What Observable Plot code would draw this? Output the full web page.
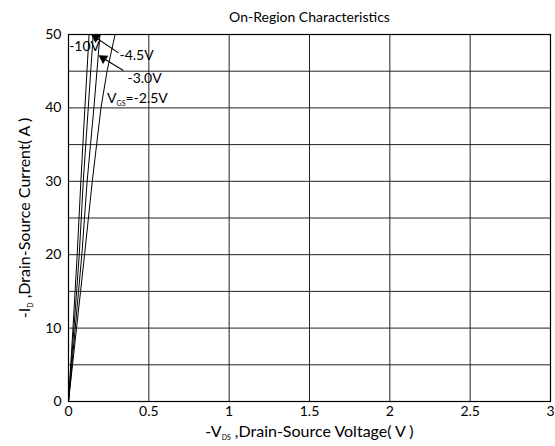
<!DOCTYPE html>
<html><head><meta charset="utf-8">
<script src="https://cdn.jsdelivr.net/npm/d3@7"></script>
<script src="https://cdn.jsdelivr.net/npm/@observablehq/plot@0.6"></script>
<style>body{margin:0;background:#fff} svg{display:block}</style>
</head><body><div id="chart"></div>
<script>
// -I_D (A) sample points shared by all curves
const currents = [0, 10, 20, 30, 40, 45, 50];
// -V_DS (V) for each gate voltage
const vdsVgs10  = [0, 0.028, 0.054, 0.077, 0.102, 0.115, 0.128];
const vdsVgs45  = [0, 0.034, 0.067, 0.092, 0.123, 0.138, 0.154];
const vdsVgs30  = [0, 0.042, 0.083, 0.116, 0.158, 0.177, 0.196];
const vdsVgs25  = [0, 0.050, 0.100, 0.148, 0.202, 0.240, 0.290];
const seriesNames = ["-10V", "-4.5V", "-3.0V", "-2.5V"];
const xTicks = [0, 0.5, 1, 1.5, 2, 2.5, 3];
const xTickLabels = ["0", "0.5", "1", "1.5", "2", "2.5", "3"];
const yTicks = [0, 10, 20, 30, 40, 50];
const yGrid = [0, 5, 10, 15, 20, 25, 30, 35, 40, 45, 50];
// annotations (data coordinates)
const labelTexts = ["-10V", "-4.5V", "-3.0V", "V_GS=-2.5V"];
const labelX = [0.004, 0.317, 0.367, 0.240];
const labelY = [48.4, 47.1, 44.0, 41.3];
const arrowTail = [[0.311, 47.5], [0.342, 45.1]];
const arrowTip  = [[0.149, 49.9], [0.198, 47.0]];

const series = [vdsVgs10, vdsVgs45, vdsVgs30, vdsVgs25];
const rows = series.flatMap((vals, i) => vals.map((v, j) => ({vgs: seriesNames[i], x: v, y: currents[j]})));
const labels = labelTexts.map((t, i) => ({t, x: labelX[i], y: labelY[i]}));
const arrows = arrowTail.map((a, i) => ({x1: a[0], y1: a[1], x2: arrowTip[i][0], y2: arrowTip[i][1]}));
const heads = arrows.map(a => ({x: a.x2 + 0.13 * (a.x1 - a.x2), y: a.y2 + 0.13 * (a.y1 - a.y2)}));

const font = "Lato, 'Open Sans', sans-serif";
const plot = Plot.plot({
  width: 555, height: 446,
  marginLeft: 68, marginRight: 5, marginTop: 34, marginBottom: 45,
  style: {fontFamily: font, fontSize: "14px", color: "#000", background: "#fff"},
  x: {domain: [0, 3], ticks: xTicks, tickFormat: (d) => xTickLabels[xTicks.indexOf(d)], tickSize: 0, tickPadding: 5,
      label: "-V_DS ,Drain-Source Voltage( V )", labelAnchor: "center", labelOffset: 35, labelArrow: "none"},
  y: {domain: [0, 50], ticks: yTicks, tickSize: 0, tickPadding: 7,
      label: "-I_D ,Drain-Source Current( A )", labelAnchor: "center", labelOffset: 50, labelArrow: "none"},
  marks: [
    Plot.gridX(xTicks, {stroke: "#222", strokeOpacity: 1, strokeWidth: 1}),
    Plot.gridY(yGrid, {stroke: "#222", strokeOpacity: 1, strokeWidth: 1}),
    Plot.frame({stroke: "#000", strokeWidth: 1.2}),
    Plot.line(rows, {x: "x", y: "y", z: "vgs", stroke: "#000", strokeWidth: 1, clip: true}),
    Plot.link(arrows, {x1: "x1", y1: "y1", x2: "x2", y2: "y2", stroke: "#000", strokeWidth: 1.1}),
    Plot.dot(heads, {x: "x", y: "y", symbol: "triangle", r: 3.6, fill: "#000", stroke: "none", rotate: -57}),
    Plot.text(labels, {x: "x", y: "y", text: "t", textAnchor: "start", fontSize: 14, fill: "#000"}),
    Plot.text(["On-Region Characteristics"], {frameAnchor: "top", dy: -22, fontSize: 14, fill: "#000"})
  ]
});
document.getElementById("chart").appendChild(plot);

// subscripts
const subs = {
  "-V_DS ,Drain-Source Voltage( V )": ["-V", "DS", " ,Drain-Source Voltage( V )", 16],
  "-I_D ,Drain-Source Current( A )": ["-I", "D", " ,Drain-Source Current( A )", 16],
  "V_GS=-2.5V": ["V", "GS", "=-2.5V", null]
};
d3.select(plot).selectAll("text").each(function() {
  const el = d3.select(this);
  const key = this.textContent.replace(/[↑→←↓]/g, "").trim();
  if (!(key in subs)) return;
  const [a, b, c, fs] = subs[key];
  el.selectAll("*").remove();
  el.text(null);
  if (fs) el.attr("font-size", fs);
  el.append("tspan").text(a);
  el.append("tspan").attr("font-size", "7px").attr("dy", "3").text(b);
  el.append("tspan").attr("dy", "-3").text(c);
});
</script>
</body></html>
